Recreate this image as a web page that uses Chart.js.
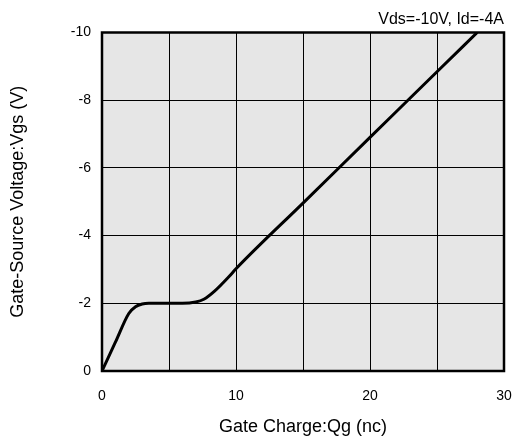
<!DOCTYPE html>
<html>
<head>
<meta charset="utf-8">
<script src="https://cdn.jsdelivr.net/npm/chart.js@4"></script>
<style>
  body { margin: 0; background: #fff; }
  canvas { display: block; }
</style>
</head>
<body>
<canvas id="gateChart" width="517" height="442"></canvas>
<script>
// ===========================
// DATA
// ===========================
const chargeNc = [0, 1, 2, 2.5, 3, 3.5, 6, 7, 7.6, 8.4, 9.5, 10, 15, 20, 25, 28];
const vgsVolts = [0, -0.85, -1.7, -1.9, -1.98, -2, -2, -2.04, -2.12, -2.36, -2.8, -3.02, -4.96, -6.9, -8.84, -10];

const xTicks = [0, 10, 20, 30];
const conditionText = "Vds=-10V, Id=-4A";
const xTitle = "Gate Charge:Qg (nc)";
const yTitle = "Gate-Source Voltage:Vgs (V)";

const FONT = "'Liberation Sans', Arial, Helvetica, sans-serif";

// ===========================
// PLUGINS
// ===========================
const plotBackground = {
    id: "plotBackground",
    beforeDraw(chart) {
        const { ctx, chartArea: a } = chart;
        ctx.save();
        ctx.fillStyle = "#e6e6e6";
        ctx.fillRect(a.left, a.top, a.right - a.left, a.bottom - a.top);
        ctx.restore();
    }
};

const plotFrame = {
    id: "plotFrame",
    afterDraw(chart) {
        const { ctx, chartArea: a } = chart;
        ctx.save();
        ctx.strokeStyle = "#000";
        ctx.lineWidth = 2.5;
        ctx.strokeRect(a.left, a.top, a.right - a.left, a.bottom - a.top);
        ctx.restore();
    }
};

// ===========================
// CHART
// ===========================
const points = chargeNc.map((q, i) => ({ x: q, y: vgsVolts[i] }));

new Chart(document.getElementById("gateChart"), {
    type: "scatter",
    data: {
        datasets: [{
            data: points,
            showLine: true,
            borderColor: "#000",
            borderWidth: 3,
            pointRadius: 0,
            cubicInterpolationMode: "monotone",
            fill: false
        }]
    },
    options: {
        responsive: false,
        animation: false,
        layout: { padding: { left: 0, right: 13, top: 0, bottom: 0 } },
        plugins: {
            legend: { display: false },
            tooltip: { enabled: false },
            title: {
                display: true,
                text: conditionText,
                align: "end",
                color: "#000",
                font: { family: FONT, size: 16, weight: "normal" },
                padding: { top: 10, bottom: 3.3 }
            }
        },
        scales: {
            x: {
                type: "linear",
                min: 0,
                max: 30,
                afterFit: s => {
                    s.height = 71;
                    s.paddingLeft = 0;
                    s.paddingRight = 0;
                },
                grid: { color: "#000", lineWidth: 1, drawTicks: false },
                border: { display: false },
                ticks: {
                    stepSize: 5,
                    padding: 17,
                    color: "#000",
                    font: { family: FONT, size: 14 },
                    callback: v => xTicks.includes(v) ? String(v) : ""
                },
                title: {
                    display: true,
                    text: xTitle,
                    color: "#000",
                    font: { family: FONT, size: 18 },
                    padding: { top: 0, bottom: 4.5 }
                }
            },
            y: {
                type: "linear",
                min: -10,
                max: 0,
                reverse: true,
                afterFit: s => {
                    s.width = 102;
                    s.paddingTop = 0;
                    s.paddingBottom = 0;
                },
                grid: { color: "#000", lineWidth: 1, drawTicks: false },
                border: { display: false },
                ticks: {
                    stepSize: 2,
                    padding: 11,
                    color: "#000",
                    font: { family: FONT, size: 14 }
                },
                title: {
                    display: true,
                    text: yTitle,
                    color: "#000",
                    font: { family: FONT, size: 18 },
                    padding: { top: 7, bottom: 0 }
                }
            }
        }
    },
    plugins: [plotBackground, plotFrame]
});
</script>
</body>
</html>
